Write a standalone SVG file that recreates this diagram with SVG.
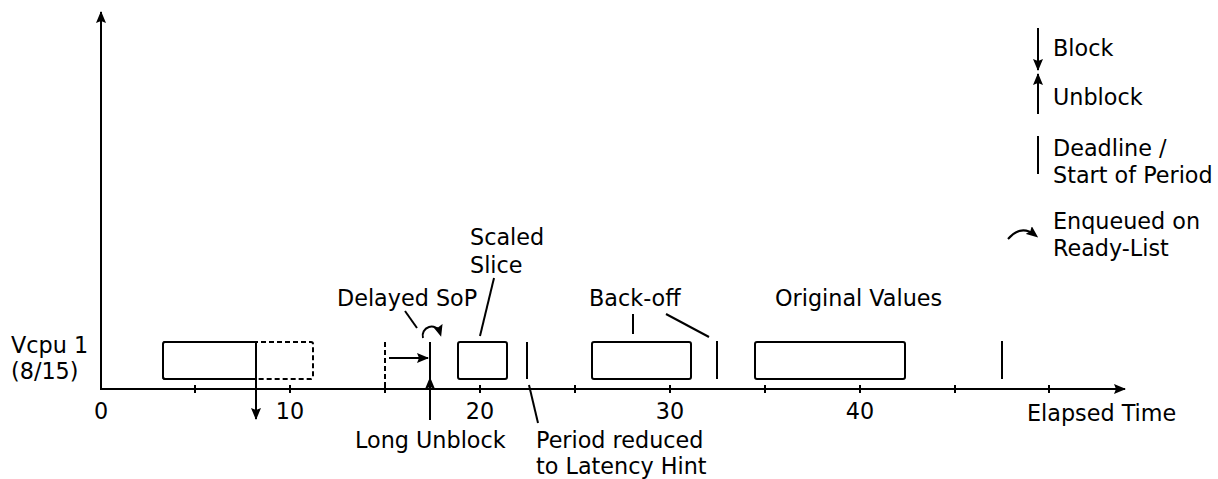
<svg xmlns="http://www.w3.org/2000/svg" width="1218" height="479" viewBox="0 0 1218 479">
<defs>
<marker id="ah" viewBox="0 0 12 10" refX="11" refY="5" markerWidth="12" markerHeight="10" markerUnits="userSpaceOnUse" orient="auto">
<path d="M0,0 L12,5 L0,10 L2,5 Z" fill="#000"/>
</marker>
<marker id="ahs" viewBox="0 0 12 10" refX="8" refY="5" markerWidth="12" markerHeight="10" markerUnits="userSpaceOnUse" orient="auto">
<path d="M0,0 L12,5 L0,10 L2,5 Z" fill="#000"/>
</marker>
</defs>
<style>
text{font-family:"DejaVu Sans","Liberation Sans",sans-serif;font-size:22.3px;fill:#000}
.ln{stroke:#000;stroke-width:2;fill:none}
.box{stroke:#000;stroke-width:2;fill:none}
.dash{stroke:#000;stroke-width:2;fill:none;stroke-dasharray:5,3}
.mid{text-anchor:middle}
</style>
<rect width="1218" height="479" fill="#fff"/>
<g id="axes">
<line class="ln" x1="101" y1="389" x2="101" y2="12" marker-end="url(#ah)"/>
<line class="ln" x1="100" y1="389" x2="1125" y2="389" marker-end="url(#ah)"/>
<g class="ln">
<line x1="195" y1="385" x2="195" y2="393"/>
<line x1="290" y1="385" x2="290" y2="393"/>
<line x1="385" y1="385" x2="385" y2="393"/>
<line x1="480" y1="385" x2="480" y2="393"/>
<line x1="575" y1="385" x2="575" y2="393"/>
<line x1="670" y1="385" x2="670" y2="393"/>
<line x1="765" y1="385" x2="765" y2="393"/>
<line x1="860" y1="385" x2="860" y2="393"/>
<line x1="955" y1="385" x2="955" y2="393"/>
<line x1="1049" y1="385" x2="1049" y2="393"/>
</g>
<text class="mid" x="101" y="419">0</text>
<text class="mid" x="290" y="419">10</text>
<text class="mid" x="480" y="419">20</text>
<text class="mid" x="670" y="419">30</text>
<text class="mid" x="860" y="419">40</text>
<text x="1027" y="421">Elapsed Time</text>
<text x="11" y="353">Vcpu 1</text>
<text x="11" y="379">(8/15)</text>
</g>
<g id="slice1">
<rect class="dash" x="163" y="342" width="150" height="37" rx="2"/>
<path class="ln" d="M256,342 H165 Q163,342 163,344 V377 Q163,379 165,379 H256"/>
</g>
<g id="slice2">
<rect class="box" x="458" y="342" width="49" height="37" rx="2"/>
</g>
<g id="slice3">
<rect class="box" x="592" y="342" width="99" height="37" rx="2"/>
</g>
<g id="slice4">
<rect class="box" x="755" y="342" width="150" height="37" rx="2"/>
</g>
<g id="connectors">
<line class="ln" x1="256" y1="342" x2="256" y2="419" marker-end="url(#ah)"/>
<line class="dash" x1="385" y1="342" x2="385" y2="389"/>
<line class="ln" x1="389" y1="358" x2="428" y2="358" marker-end="url(#ah)"/>
<line class="ln" x1="430" y1="342" x2="430" y2="379"/>
<line class="ln" x1="430" y1="420" x2="430" y2="378" marker-end="url(#ah)"/>
<path class="ln" d="M423,338 A8.5,8.5 0 1 1 440,333" marker-end="url(#ahs)"/>
<line class="ln" x1="405" y1="311" x2="417" y2="328"/>
<line class="ln" x1="494" y1="278" x2="480" y2="336"/>
<line class="ln" x1="527" y1="342" x2="527" y2="379"/>
<line class="ln" x1="529" y1="385" x2="538" y2="423"/>
<line class="ln" x1="633" y1="314" x2="633" y2="334"/>
<line class="ln" x1="666" y1="314" x2="709" y2="337"/>
<line class="ln" x1="717" y1="341" x2="717" y2="379"/>
<line class="ln" x1="1002" y1="341" x2="1002" y2="379"/>
</g>
<g id="labels">
<text x="337" y="306">Delayed SoP</text>
<text x="470" y="245">Scaled</text>
<text x="470" y="273">Slice</text>
<text x="355" y="448">Long Unblock</text>
<text x="536" y="448">Period reduced</text>
<text x="536" y="474">to Latency Hint</text>
<text x="589" y="306">Back-off</text>
<text x="775" y="306">Original Values</text>
</g>
<g id="legend">
<line class="ln" x1="1038" y1="28" x2="1038" y2="70" marker-end="url(#ah)"/>
<text x="1053" y="56">Block</text>
<line class="ln" x1="1038" y1="114" x2="1038" y2="74" marker-end="url(#ah)"/>
<text x="1053" y="105">Unblock</text>
<line class="ln" x1="1038" y1="136" x2="1038" y2="174"/>
<text x="1053" y="156">Deadline /</text>
<text x="1053" y="183">Start of Period</text>
<path class="ln" d="M1008,239 Q1021,224 1035,235" marker-end="url(#ahs)"/>
<text x="1053" y="229">Enqueued on</text>
<text x="1053" y="256">Ready-List</text>
</g>
</svg>
